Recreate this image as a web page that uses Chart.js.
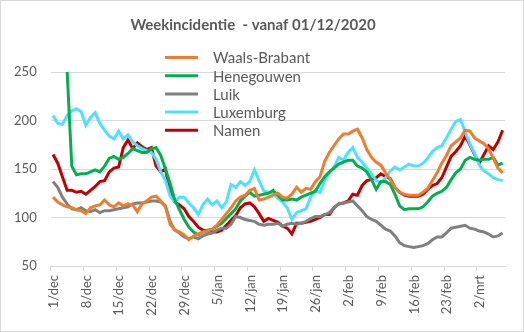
<!DOCTYPE html>
<html>
<head>
<meta charset="utf-8">
<script src="https://cdn.jsdelivr.net/npm/chart.js@4.4.0/dist/chart.umd.min.js"></script>
<style>
  html, body { margin: 0; padding: 0; background: #fff; }
  #wrap { width: 524px; height: 332px; box-sizing: border-box; border: 1px solid #d9d9d9; }
  canvas { display: block; }
</style>
</head>
<body>
<div id="wrap"><canvas id="chart" width="522" height="330"></canvas></div>
<script>
// one value per day, 1 december 2020 .. 7 maart 2021
const tickLabels = ['1/dec', '8/dec', '15/dec', '22/dec', '29/dec', '5/jan', '12/jan', '19/jan', '26/jan', '2/feb', '9/feb', '16/feb', '23/feb', '2/mrt'];

const waalsBrabant = [121, 116, 113, 111, 110, 108, 107, 104, 110, 112,
    113, 118, 113, 111, 115, 112, 114, 113, 106, 114,
    117, 121, 122, 117, 111, 93, 87, 85, 82, 77,
    81, 83, 85, 86, 88, 92, 98, 104, 110, 117,
    121, 123, 128, 130, 118, 119, 121, 123, 125, 121,
    120, 124, 131, 126, 130, 129, 137, 142, 158, 167,
    174, 181, 186, 186, 189, 191, 182, 170, 162, 157,
    154, 146, 139, 131, 126, 124, 123, 123, 123, 126,
    130, 138, 146, 156, 164, 174, 178, 182, 190, 189,
    182, 179, 176, 171, 161, 151, 146];

const henegouwen = [320, 305, 285, 252, 153, 144, 145, 145, 147, 149,
    147, 153, 161, 163, 160, 162, 166, 171, 169, 167,
    167, 171, 172, 164, 150, 135, 118, 108, 98, 90,
    85, 82, 85, 87, 88, 91, 94, 99, 104, 109,
    117, 122, 126, 122, 123, 124, 125, 128, 123, 118,
    118, 119, 118, 121, 123, 125, 127, 135, 142, 147,
    151, 155, 157, 159, 159, 153, 151, 147, 139, 129,
    137, 137, 134, 124, 112, 108, 109, 109, 109, 111,
    116, 122, 125, 127, 131, 139, 146, 150, 159, 162,
    160, 159, 160, 160, 162, 154, 156];

const luik = [137, 131, 121, 114, 109, 108, 110, 107, 106, 108,
    105, 107, 107, 108, 109, 110, 111, 114, 115, 115,
    116, 117, 117, 116, 112, 96, 87, 84, 80, 78,
    80, 78, 81, 83, 84, 87, 89, 89, 93, 101,
    100, 98, 97, 96, 93, 92, 93, 93, 94, 91,
    93, 94, 93, 94, 96, 99, 101, 101, 103, 105,
    110, 114, 115, 116, 117, 112, 107, 101, 98, 96,
    92, 88, 86, 81, 74, 71, 70, 69, 70, 71,
    73, 77, 80, 80, 84, 89, 90, 91, 92, 89,
    88, 86, 85, 83, 80, 81, 84];

const luxemburg = [205, 197, 196, 205, 210, 212, 209, 195, 203, 208,
    197, 190, 184, 181, 189, 181, 185, 178, 174, 171,
    169, 167, 160, 147, 138, 122, 116, 121, 121, 115,
    110, 103, 113, 119, 113, 117, 110, 116, 134, 131,
    137, 133, 137, 149, 138, 127, 126, 125, 120, 116,
    110, 98, 105, 107, 109, 121, 128, 126, 138, 146,
    152, 162, 159, 167, 172, 162, 157, 151, 145, 138,
    136, 141, 148, 152, 149, 152, 155, 153, 153, 156,
    161, 168, 172, 174, 182, 191, 199, 201, 188, 176,
    166, 154, 148, 145, 141, 139, 138];

const namen = [165, 156, 142, 128, 128, 126, 127, 124, 128, 132,
    137, 138, 147, 151, 152, 172, 180, 171, 177, 173,
    170, 172, 153, 147, 150, 125, 116, 113, 109, 101,
    96, 90, 87, 86, 85, 85, 87, 92, 97, 102,
    110, 114, 115, 111, 104, 96, 99, 97, 95, 91,
    89, 83, 94, 94, 95, 96, 98, 100, 103, 103,
    110, 114, 115, 117, 124, 123, 133, 138, 139, 141,
    145, 142, 140, 131, 126, 123, 122, 122, 122, 124,
    129, 133, 135, 141, 152, 163, 168, 174, 184, 175,
    165, 156, 165, 174, 170, 178, 190];

const seriesNames = ['Waals-Brabant', 'Henegouwen', 'Luik', 'Luxemburg', 'Namen'];
const seriesValues = [waalsBrabant, henegouwen, luik, luxemburg, namen];
const seriesColors = ['#ED7D31', '#00B050', '#808080', '#4DE1FF', '#C00000'];

const textColor = '#595959';
const gridColor = '#d9d9d9';
const fontFamily = 'Lato, "Open Sans", sans-serif';

// legend sits inside the plot, like the Excel original
const insideLegend = {
    id: 'insideLegend',
    afterDatasetsDraw(chart) {
        const ctx = chart.ctx;
        ctx.save();
        ctx.font = '15px ' + fontFamily;
        ctx.textBaseline = 'middle';
        chart.data.datasets.forEach(function (ds, i) {
            const y = 56.5 + i * 18.2;
            ctx.strokeStyle = ds.borderColor;
            ctx.lineWidth = 3;
            ctx.beginPath();
            ctx.moveTo(164, y);
            ctx.lineTo(197, y);
            ctx.stroke();
            ctx.fillStyle = textColor;
            ctx.fillText(ds.label, 212, y + 1);
        });
        ctx.restore();
    }
};

const ctx = document.getElementById('chart').getContext('2d');

const chart = new Chart(ctx, {
    type: 'line',
    data: {
        datasets: seriesNames.map(function (name, s) {
            return {
                label: name,
                data: seriesValues[s].map(function (v, i) { return { x: i, y: v }; }),
                borderColor: seriesColors[s],
                backgroundColor: seriesColors[s],
                borderWidth: 3,
                pointRadius: 0,
                tension: 0,
                fill: false
            };
        })
    },
    options: {
        responsive: false,
        animation: false,
        events: [],
        layout: {
            padding: { left: 0, right: 18, top: 0, bottom: 0 }
        },
        plugins: {
            legend: { display: false },
            tooltip: { enabled: false },
            title: {
                display: true,
                text: 'Weekincidentie  - vanaf 01/12/2020',
                color: textColor,
                font: { family: fontFamily, size: 15, weight: 'bold' },
                padding: { top: 15, bottom: 38 }
            }
        },
        scales: {
            x: {
                type: 'linear',
                min: -0.5,
                max: 96.5,
                afterBuildTicks: function (scale) {
                    scale.ticks = tickLabels.map(function (_, k) { return { value: k * 7 - 0.5 }; });
                },
                afterFit: function (scale) {
                    scale.height = 65;
                },
                grid: {
                    drawOnChartArea: false,
                    color: gridColor,
                    tickLength: 5
                },
                border: { color: gridColor },
                ticks: {
                    autoSkip: false,
                    minRotation: 90,
                    maxRotation: 90,
                    padding: 4,
                    labelOffset: 3,
                    color: textColor,
                    font: { family: fontFamily, size: 13 },
                    callback: function (value, index) {
                        return tickLabels[index];
                    }
                }
            },
            y: {
                min: 50,
                max: 250,
                afterFit: function (scale) {
                    scale.width = 49.7;
                },
                grid: {
                    color: gridColor,
                    drawTicks: false
                },
                border: { display: false },
                ticks: {
                    stepSize: 50,
                    padding: 14,
                    color: textColor,
                    font: { family: fontFamily, size: 13 }
                }
            }
        }
    },
    plugins: [insideLegend]
});
</script>
</body>
</html>
